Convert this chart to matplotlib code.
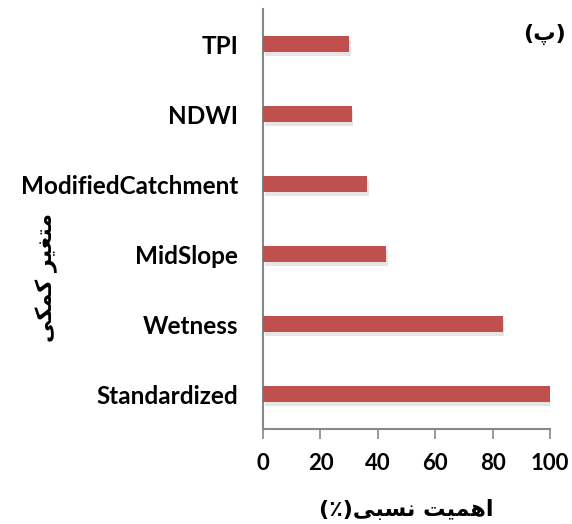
import matplotlib
matplotlib.use("Agg")
import matplotlib.pyplot as plt
import matplotlib.patheffects as pe

categories = ["Standardized", "Wetness", "MidSlope", "ModifiedCatchment", "NDWI", "TPI"]
values = [100, 83.5, 43, 36.3, 31, 30]
xticks = [0, 20, 40, 60, 80, 100]

# Persian texts, pre-shaped (presentation forms) in visual order
ylabel_txt = "\uFBFD\uFB91\uFEE4\uFB90 \uFEAE\uFBFF\uFED0\uFE98\uFEE3"   # متغیر کمکی
xlabel_txt = "(\u066A)\uFBFD\uFE92\uFEB4\uFEE7 \uFE96\uFBFF\uFEE4\uFEEB\uFE8D"  # اهمیت نسبی(٪)
panel_txt = "(\uFB56)"  # (پ)

fig = plt.figure(figsize=(5.72, 5.24), dpi=100)
ax = fig.add_axes([0.46, 0.181, 0.5015, 0.801])

bars = ax.barh(range(len(categories)), values, height=0.23, color="#C0504D", zorder=3)
for b in bars:
    b.set_path_effects([pe.SimplePatchShadow(offset=(1, -2.5), shadow_rgbFace="#aaaaaa", alpha=0.3), pe.Normal()])

ax.set_xlim(0, 100)
ax.set_ylim(-0.5, 5.5)
ax.set_yticks(range(len(categories)))
ax.set_yticklabels(categories, fontfamily="Lato", fontweight="bold", fontsize=17.5)
ax.set_xticks(xticks)
ax.set_xticklabels([str(t) for t in xticks], fontfamily="Lato", fontweight="bold", fontsize=16)

for s in ["top", "right"]:
    ax.spines[s].set_visible(False)
for s in ["left", "bottom"]:
    ax.spines[s].set_color("#888888")
    ax.spines[s].set_linewidth(1.5)
ax.tick_params(axis="y", length=0, pad=18)
ax.tick_params(axis="x", length=7, width=1.2, color="#888888", pad=10)

fig.text(0.71, 0.027, xlabel_txt, fontfamily=["DejaVu Sans"], fontweight="bold", fontsize=16, ha="center", va="center")
fig.text(0.082, 0.47, ylabel_txt, fontfamily=["DejaVu Sans"], fontweight="bold", fontsize=16, rotation=90, ha="center", va="center")
fig.text(0.99, 0.935, panel_txt, fontfamily=["DejaVu Sans"], fontweight="bold", fontsize=16, ha="right", va="center")

fig.savefig("out.png", dpi=100)
